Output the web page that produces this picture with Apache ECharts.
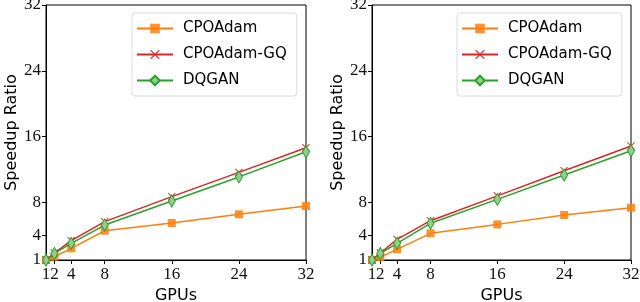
<!DOCTYPE html>
<html><head><meta charset="utf-8">
<script src="https://cdn.jsdelivr.net/npm/echarts@6/dist/echarts.min.js"></script>
<style>html,body{margin:0;padding:0;background:#fff}#c{width:640px;height:302px}</style>
</head><body><div id="c"></div>
<script>
const gpus = [1, 2, 4, 8, 16, 24, 32];
const tickValues = [1, 2, 4, 8, 16, 24, 32];
const seriesNames = ['CPOAdam', 'CPOAdam-GQ', 'DQGAN'];
// left panel
const leftCPOAdam   = [1, 1.4, 2.42, 4.56, 5.5, 6.55, 7.56];
const leftCPOAdamGQ = [1, 1.85, 3.35, 5.66, 8.7, 11.65, 14.65];
const leftDQGAN     = [1, 1.8, 3.03, 5.25, 8.17, 11.1, 14.16];
// right panel
const rightCPOAdam   = [1, 1.35, 2.3, 4.24, 5.33, 6.47, 7.36];
const rightCPOAdamGQ = [1, 1.85, 3.5, 5.78, 8.8, 11.85, 14.85];
const rightDQGAN     = [1, 1.8, 3.03, 5.46, 8.37, 11.33, 14.28];

const colors = ['#ff7f0e', '#d62728', '#2ca02c'];
const symbols = [
  'rect',
  'path://M0,1L1,0L5,4L9,0L10,1L6,5L10,9L9,10L5,6L1,10L0,9L4,5Z',
  'path://M5,0L9,10L5,20L1,10Z'
];
const symSizes = [8, [8, 8], [7, 12]];

const chart = echarts.init(document.getElementById('c'));
const serif = 'Liberation Serif';
const sans = 'DejaVu Sans';

function axisX(gi) {
  return {
    type: 'value', gridIndex: gi, min: 1, max: 32,
    name: 'GPUs', nameLocation: 'middle', nameGap: 26,
    nameTextStyle: { fontFamily: sans, fontSize: 16, color: '#000' },
    axisLine: { show: true, onZero: false, lineStyle: { color: '#000', width: 1 } },
    axisTick: { show: true, inside: false, length: 4, customValues: tickValues, lineStyle: { color: '#000' } },
    axisLabel: { customValues: tickValues, fontFamily: serif, fontSize: 17, color: '#111', margin: 6, showMinLabel: true, showMaxLabel: true, hideOverlap: false },
    splitLine: { show: false }
  };
}
function axisY(gi) {
  return {
    type: 'value', gridIndex: gi, min: 1, max: 32,
    name: 'Speedup Ratio', nameLocation: 'middle', nameGap: 25,
    nameTextStyle: { fontFamily: sans, fontSize: 16, color: '#000' },
    axisLine: { show: true, onZero: false, lineStyle: { color: '#000', width: 1 } },
    axisTick: { show: true, inside: false, length: 4, customValues: tickValues, lineStyle: { color: '#000' } },
    axisLabel: { customValues: tickValues, fontFamily: serif, fontSize: 17, color: '#111', margin: 5, showMinLabel: true, showMaxLabel: true, hideOverlap: false },
    splitLine: { show: false }
  };
}
function mkSeries(gi, datas) {
  return datas.map((d, i) => ({
    name: seriesNames[i], type: 'line', xAxisIndex: gi, yAxisIndex: gi,
    data: gpus.map((g, k) => [g, d[k]]),
    symbol: symbols[i], symbolSize: symSizes[i], showSymbol: true,
    lineStyle: { color: colors[i], width: 1.5 },
    itemStyle: i === 2 ? { color: '#8fd08f', borderColor: colors[i], borderWidth: 1 } : { color: colors[i], opacity: 0.85 },
    emphasis: { disabled: true }, animation: false, z: 3 + i
  }));
}
function legend(left) {
  return {
    orient: 'vertical', left: left, top: 13, data: seriesNames,
    itemWidth: 36, itemHeight: 12, itemGap: 11,
    padding: [8, 10, 8, 4],
    borderColor: '#dcdcdc', borderWidth: 1, borderRadius: 3,
    backgroundColor: '#fff',
    textStyle: { fontFamily: sans, fontSize: 15, color: '#000', padding: [0, 0, 0, 5] }
  };
}
chart.setOption({
  animation: false,
  grid: [
    { left: 46, top: 5, width: 260, height: 255, show: true, borderColor: '#000', borderWidth: 1, containLabel: false, outerBoundsMode: 'none' },
    { left: 372, top: 5, width: 259, height: 255, show: true, borderColor: '#000', borderWidth: 1, containLabel: false, outerBoundsMode: 'none' }
  ],
  xAxis: [axisX(0), axisX(1)],
  yAxis: [axisY(0), axisY(1)],
  legend: [legend(132), legend(457)],
  series: mkSeries(0, [leftCPOAdam, leftCPOAdamGQ, leftDQGAN]).concat(mkSeries(1, [rightCPOAdam, rightCPOAdamGQ, rightDQGAN]))
});
</script></body></html>
